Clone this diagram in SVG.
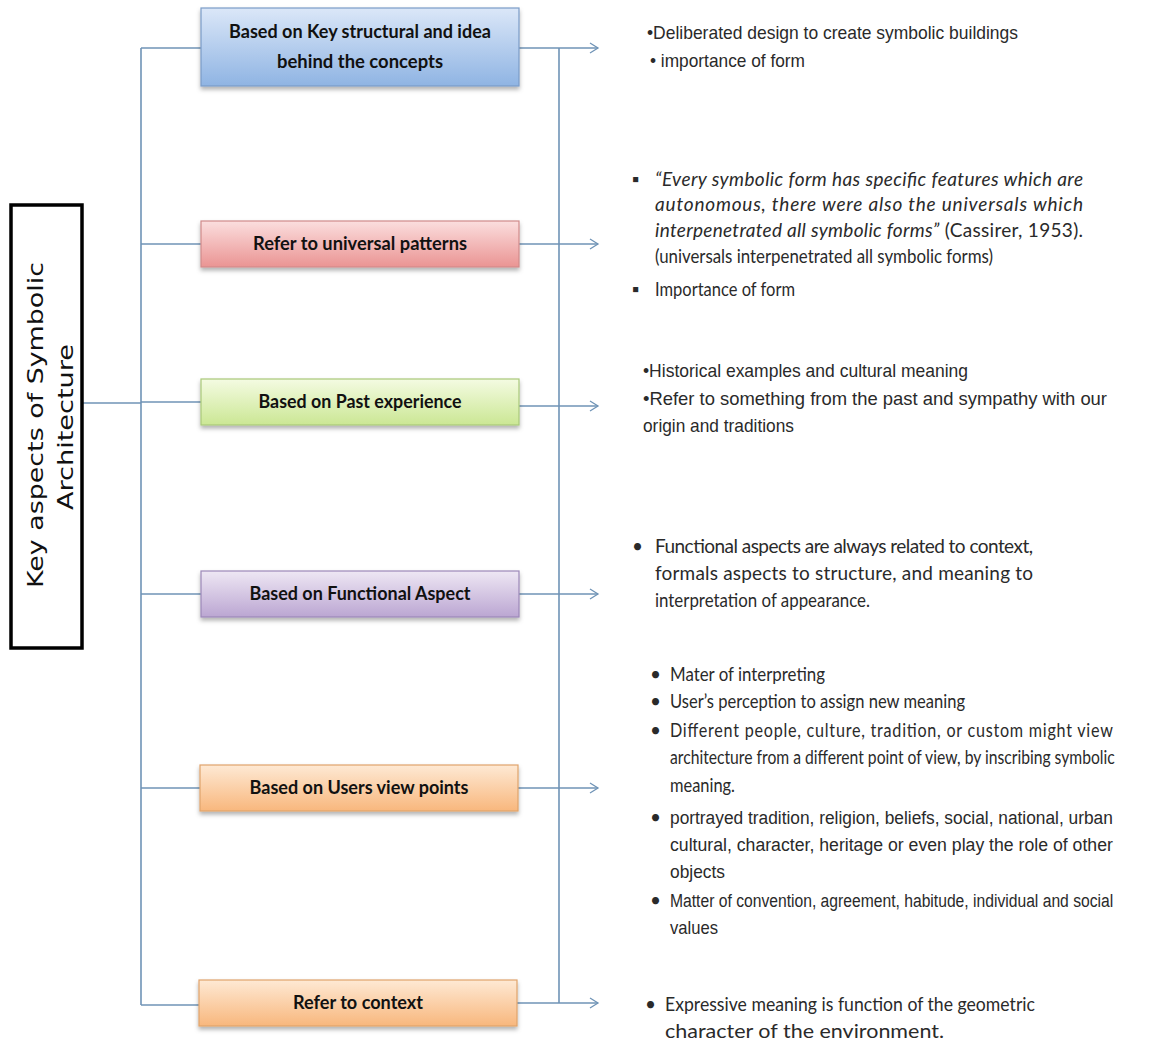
<svg xmlns="http://www.w3.org/2000/svg" width="1154" height="1048" viewBox="0 0 1154 1048">
<style>
.ln{fill:none;stroke:#6f93b6;stroke-width:1.6}
.box{stroke-width:1.2}
.lbl{font-family:Lato,"Liberation Sans",sans-serif;font-weight:bold;font-size:18px;fill:#111;text-anchor:middle}
.ar{font-family:"Liberation Sans",Arial,sans-serif;font-size:19px;fill:#2a2a2a}
.ca{font-family:Lato,"Liberation Sans",sans-serif;font-size:19px;fill:#2a2a2a}
.it{font-style:italic}
.title{font-family:"DejaVu Sans",Verdana,sans-serif;font-size:22px;fill:#111;text-anchor:middle}
</style>
<defs>
<linearGradient id="gBlue" x1="0" y1="0" x2="0" y2="1"><stop offset="0" stop-color="#dbe7f8"/><stop offset="1" stop-color="#8fb4e3"/></linearGradient>
<linearGradient id="gRed" x1="0" y1="0" x2="0" y2="1"><stop offset="0" stop-color="#fbdede"/><stop offset="1" stop-color="#ea9493"/></linearGradient>
<linearGradient id="gGreen" x1="0" y1="0" x2="0" y2="1"><stop offset="0" stop-color="#f4fbe2"/><stop offset="1" stop-color="#cbe794"/></linearGradient>
<linearGradient id="gPurple" x1="0" y1="0" x2="0" y2="1"><stop offset="0" stop-color="#eee7f4"/><stop offset="1" stop-color="#bba6d2"/></linearGradient>
<linearGradient id="gOrange" x1="0" y1="0" x2="0" y2="1"><stop offset="0" stop-color="#fee9d4"/><stop offset="1" stop-color="#f8b77d"/></linearGradient>
<filter id="sh" x="-5%" y="-20%" width="110%" height="150%"><feDropShadow dx="0" dy="3" stdDeviation="2" flood-color="#000" flood-opacity="0.3"/></filter>
<marker id="arr" markerWidth="12" markerHeight="12" refX="9" refY="6" orient="auto" markerUnits="userSpaceOnUse"><path d="M1,1 L9,6 L1,11" fill="none" stroke="#6f93b6" stroke-width="1.3"/></marker>
</defs>
<rect width="1154" height="1048" fill="#fff"/>

<g id="connectors">
<path class="ln" d="M141,48 V1005"/>
<path class="ln" d="M82,403 H141"/>
<path class="ln" d="M141,48 H201"/>
<path class="ln" d="M141,244 H201"/>
<path class="ln" d="M141,402 H201"/>
<path class="ln" d="M141,594 H201"/>
<path class="ln" d="M141,788 H200"/>
<path class="ln" d="M141,1005 H199"/>
<path class="ln" d="M559,48 V1003"/>
<path class="ln" d="M519,48 H598" marker-end="url(#arr)"/>
<path class="ln" d="M519,244 H598" marker-end="url(#arr)"/>
<path class="ln" d="M519,406 H598" marker-end="url(#arr)"/>
<path class="ln" d="M519,594 H598" marker-end="url(#arr)"/>
<path class="ln" d="M518,788 H598" marker-end="url(#arr)"/>
<path class="ln" d="M517,1003 H598" marker-end="url(#arr)"/>
</g>

<g id="title">
<rect x="11" y="205" width="71" height="443" fill="#fff" stroke="#000" stroke-width="3.5"/>
<text class="title" transform="translate(43,425) rotate(-90)" textLength="326" lengthAdjust="spacingAndGlyphs">Key aspects of Symbolic</text>
<text class="title" transform="translate(73,427) rotate(-90)" textLength="166" lengthAdjust="spacingAndGlyphs">Architecture</text>
</g>

<g id="node1">
<rect class="box" x="201" y="8" width="318" height="78" fill="url(#gBlue)" stroke="#7b9cc7" filter="url(#sh)"/>
<text class="lbl" x="360" y="38" textLength="262" lengthAdjust="spacingAndGlyphs">Based on Key structural and idea</text>
<text class="lbl" x="360" y="68" textLength="166" lengthAdjust="spacingAndGlyphs">behind the concepts</text>
</g>
<g id="node2">
<rect class="box" x="201" y="221" width="318" height="46" fill="url(#gRed)" stroke="#d08a8a" filter="url(#sh)"/>
<text class="lbl" x="360" y="250" textLength="214" lengthAdjust="spacingAndGlyphs">Refer to universal patterns</text>
</g>
<g id="node3">
<rect class="box" x="201" y="379" width="318" height="46" fill="url(#gGreen)" stroke="#a9c97a" filter="url(#sh)"/>
<text class="lbl" x="360" y="408" textLength="203" lengthAdjust="spacingAndGlyphs">Based on Past experience</text>
</g>
<g id="node4">
<rect class="box" x="201" y="571" width="318" height="46" fill="url(#gPurple)" stroke="#9c88b8" filter="url(#sh)"/>
<text class="lbl" x="360" y="600" textLength="221" lengthAdjust="spacingAndGlyphs">Based on Functional Aspect</text>
</g>
<g id="node5">
<rect class="box" x="200" y="765" width="318" height="46" fill="url(#gOrange)" stroke="#e0a36c" filter="url(#sh)"/>
<text class="lbl" x="359" y="794" textLength="219" lengthAdjust="spacingAndGlyphs">Based on Users view points</text>
</g>
<g id="node6">
<rect class="box" x="199" y="980" width="318" height="46" fill="url(#gOrange)" stroke="#e0a36c" filter="url(#sh)"/>
<text class="lbl" x="358" y="1009" textLength="130" lengthAdjust="spacingAndGlyphs">Refer to context</text>
</g>

<g id="text1">
<text class="ar" x="647" y="39" textLength="371" lengthAdjust="spacingAndGlyphs">•Deliberated design to create symbolic buildings</text>
<text class="ar" x="650" y="67" textLength="155" lengthAdjust="spacingAndGlyphs">• importance of form</text>
</g>

<g id="text2">
<text class="ca" x="632" y="186">▪</text>
<text class="ca it" x="655" y="186" textLength="428" lengthAdjust="spacing">“Every symbolic form has specific features which are</text>
<text class="ca it" x="655" y="211" textLength="428" lengthAdjust="spacing">autonomous, there were also the universals which</text>
<text class="ca" x="655" y="237" textLength="428" lengthAdjust="spacing"><tspan class="it">interpenetrated all symbolic forms”</tspan> (Cassirer, 1953).</text>
<text class="ca" x="655" y="263" textLength="338" lengthAdjust="spacingAndGlyphs">(universals interpenetrated all symbolic forms)</text>
<text class="ca" x="632" y="296">▪</text>
<text class="ca" x="655" y="296" textLength="140" lengthAdjust="spacingAndGlyphs">Importance of form</text>
</g>

<g id="text3">
<text class="ar" x="643" y="377" textLength="325" lengthAdjust="spacingAndGlyphs">•Historical examples and cultural meaning</text>
<text class="ar" x="643" y="405" textLength="464" lengthAdjust="spacingAndGlyphs">•Refer to something from the past  and sympathy with our</text>
<text class="ar" x="643" y="432" textLength="151" lengthAdjust="spacingAndGlyphs">origin and traditions</text>
</g>

<g id="text4">
<text class="ca" x="632" y="553">•</text>
<text class="ca" x="655" y="553" textLength="378" lengthAdjust="spacing">Functional aspects are always related to context,</text>
<text class="ca" x="655" y="580" textLength="378" lengthAdjust="spacing">formals aspects to structure, and meaning to</text>
<text class="ca" x="655" y="607" textLength="215" lengthAdjust="spacingAndGlyphs">interpretation of appearance.</text>
</g>

<g id="text5">
<text class="ca" x="650" y="681">•</text>
<text class="ca" x="670" y="681" textLength="155" lengthAdjust="spacingAndGlyphs">Mater of interpreting</text>
<text class="ca" x="650" y="708">•</text>
<text class="ca" x="670" y="708" textLength="295" lengthAdjust="spacingAndGlyphs">User’s perception to assign new meaning</text>
<text class="ca" x="650" y="737">•</text>
<text class="ca" transform="translate(670,737) scale(0.85,1)" x="0" y="0" textLength="521" lengthAdjust="spacing">Different people, culture, tradition, or custom might view</text>
<text class="ca" transform="translate(670,764) scale(0.8,1)" x="0" y="0" textLength="556" lengthAdjust="spacingAndGlyphs">architecture from a different point of view, by inscribing symbolic</text>
<text class="ca" x="670" y="792" textLength="65" lengthAdjust="spacingAndGlyphs">meaning.</text>
<text class="ca" x="650" y="824">•</text>
<text class="ar" transform="translate(670,824) scale(0.85,1)" x="0" y="0" textLength="521" lengthAdjust="spacingAndGlyphs">portrayed tradition, religion, beliefs, social, national, urban</text>
<text class="ar" transform="translate(670,851) scale(0.85,1)" x="0" y="0" textLength="521" lengthAdjust="spacingAndGlyphs">cultural, character, heritage or even play the role of other</text>
<text class="ar" x="670" y="878" textLength="55" lengthAdjust="spacingAndGlyphs">objects</text>
<text class="ca" x="650" y="907">•</text>
<text class="ar" transform="translate(670,907) scale(0.8,1)" x="0" y="0" textLength="554" lengthAdjust="spacingAndGlyphs">Matter of convention, agreement, habitude, individual and social</text>
<text class="ar" x="670" y="934" textLength="48" lengthAdjust="spacingAndGlyphs">values</text>
</g>

<g id="text6">
<text class="ca" x="645" y="1011">•</text>
<text class="ca" x="665" y="1011" textLength="370" lengthAdjust="spacingAndGlyphs">Expressive meaning is function of the geometric</text>
<text class="ca" x="665" y="1038" textLength="279" lengthAdjust="spacingAndGlyphs">character of the environment.</text>
</g>
</svg>
